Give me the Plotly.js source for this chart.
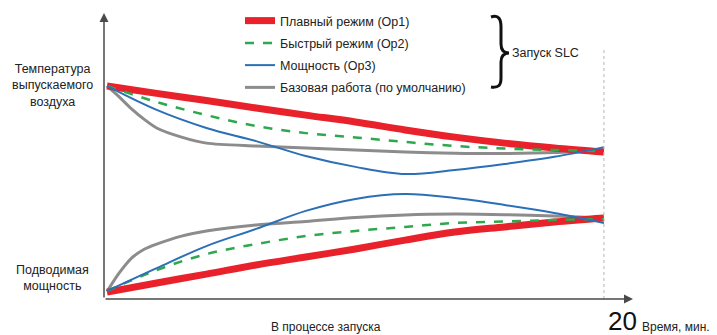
<!DOCTYPE html>
<html>
<head>
<meta charset="utf-8">
<script src="https://cdn.plot.ly/plotly-3.0.1.min.js"></script>
<style>
  html, body { margin: 0; padding: 0; background: #ffffff; }
  #chart { width: 717px; height: 335px; }
</style>
</head>
<body>
<div id="chart"></div>
<script>
// ---- Data (time in minutes, values in relative units 0..100) ----
const tGrid = [0, 2, 4, 6, 8, 10, 12, 14, 16, 18, 20];
const tFast = [0, 0.5, 1, 1.5, 2, 3, 4, 6, 8, 10, 12, 14, 16, 18, 20];

// Upper group: outlet air temperature
const op1Temp  = [74.5, 71.9, 69.4, 66.8, 64.3, 61.9, 59.1, 56.6, 54.5, 52.8, 51.4];
const op2Temp  = [74.5, 68.9, 64.3, 60.5, 58.0, 56.5, 54.9, 53.5, 52.6, 52.1, 51.7];
const op3Temp  = [74.5, 66.1, 59.8, 55.2, 50.0, 46.2, 43.7, 45.1, 47.2, 49.7, 53.1];
const baseTemp = [74.5, 70.6, 66.4, 62.8, 59.8, 56.6, 54.5, 53.5, 52.8, 52.1, 51.4, 51.0, 50.9, 51.2, 52.1];

// Lower group: input power
const op1Power  = [2.4, 5.6, 8.7, 11.9, 14.7, 17.5, 20.6, 23.4, 25.2, 26.9, 28.3];
const op2Power  = [2.8, 10.1, 15.7, 19.2, 22.0, 23.8, 25.2, 26.6, 27.1, 27.6, 28.0];
const op3Power  = [2.8, 10.8, 18.5, 24.5, 30.8, 35.0, 36.7, 35.3, 32.9, 30.1, 26.6];
const basePower = [2.6, 9.2, 14.4, 17.4, 19.2, 22.0, 23.8, 25.9, 27.1, 28.5, 29.4, 29.7, 29.5, 29.0, 28.3];

const seriesNames = ["Плавный режим (Op1)", "Быстрый режим (Op2)", "Мощность (Op3)", "Базовая работа (по умолчанию)"];
const endTime = 20;

// ---- Layout helpers (pixel -> paper) ----
const W = 717, H = 335;
const M = {l: 104, r: 84, t: 13, b: 36};
const PW = W - M.l - M.r, PH = H - M.t - M.b;
const px = x => (x - M.l) / PW;
const py = y => (H - M.b - y) / PH;

const FONT = "Liberation Sans, Arial, sans-serif";
const RED = "#e8212b", GREEN = "#2ea84c", BLUE = "#2b6fb6", GRAY = "#8c8c8c";

function tr(x, y, color, width, dash, group, name, show, rank, smooth) {
  return {
    x: x, y: y, type: "scatter", mode: "lines",
    line: {color: color, width: width, dash: dash, shape: "spline", smoothing: smooth},
    name: name, legendgroup: group, showlegend: show, legendrank: rank,
    hoverinfo: "skip"
  };
}

const data = [
  tr(tFast, baseTemp, GRAY, 3, "solid", "g4", seriesNames[3], true, 4, 0.8),
  tr(tFast, basePower, GRAY, 3, "solid", "g4", seriesNames[3], false, 4, 0.8),
  tr(tGrid, op1Temp, RED, 7, "solid", "g1", seriesNames[0], true, 1, 1),
  tr(tGrid, op1Power, RED, 7, "solid", "g1", seriesNames[0], false, 1, 1),
  tr(tGrid, op2Temp, GREEN, 2.5, "dash", "g2", seriesNames[1], true, 2, 1),
  tr(tGrid, op2Power, GREEN, 2.5, "dash", "g2", seriesNames[1], false, 2, 1),
  tr(tGrid, op3Temp, BLUE, 2, "solid", "g3", seriesNames[2], true, 3, 1),
  tr(tGrid, op3Power, BLUE, 2, "solid", "g3", seriesNames[2], false, 3, 1)
];

// curly brace path in paper coordinates
const P = (x, y) => px(x).toFixed(5) + "," + py(y).toFixed(5);
const bracePath =
  "M" + P(491, 17) +
  " C" + P(499, 14) + " " + P(501, 20) + " " + P(501, 27) +
  " L" + P(501, 44) +
  " C" + P(501, 50) + " " + P(504, 53) + " " + P(509, 53) +
  " C" + P(504, 53) + " " + P(501, 56) + " " + P(501, 62) +
  " L" + P(501, 78) +
  " C" + P(501, 85) + " " + P(499, 88) + " " + P(491, 87);

const textColor = "#222222";
const layout = {
  width: W, height: H,
  margin: Object.assign({autoexpand: false}, M),
  paper_bgcolor: "#ffffff", plot_bgcolor: "#ffffff",
  font: {family: FONT, size: 12, color: textColor},
  showlegend: true,
  legend: {
    xref: "container", yref: "container",
    x: 240 / W, y: 1 - 6 / H, xanchor: "left", yanchor: "top",
    bgcolor: "rgba(0,0,0,0)", borderwidth: 0,
    font: {family: FONT, size: 12.5, color: textColor},
    traceorder: "grouped", tracegroupgap: 3, itemwidth: 30
  },
  xaxis: {range: [-0.12, 21.17], visible: false, fixedrange: true},
  yaxis: {range: [0, 100], visible: false, fixedrange: true},
  shapes: [
    {type: "line", xref: "x", yref: "paper", x0: endTime, x1: endTime, y0: 0, y1: py(48),
     line: {color: "#b5b5b5", width: 1, dash: "dot"}},
    {type: "path", xref: "paper", yref: "paper", path: bracePath,
     line: {color: "#111111", width: 3}}
  ],
  annotations: [
    // axes with arrows
    {xref: "paper", yref: "paper", x: 0, y: 1, ax: 0, ay: PH, axref: "pixel", ayref: "pixel",
     showarrow: true, arrowhead: 2, arrowsize: 1.2, arrowwidth: 1.5, arrowcolor: "#4a4a4a", text: ""},
    {xref: "paper", yref: "paper", x: 1, y: 0, ax: -PW, ay: 0, axref: "pixel", ayref: "pixel",
     showarrow: true, arrowhead: 2, arrowsize: 1.2, arrowwidth: 1.5, arrowcolor: "#4a4a4a", text: ""},
    // side labels
    {xref: "paper", yref: "paper", x: px(52), y: py(86), showarrow: false, xanchor: "center", yanchor: "middle",
     text: "Температура<br>выпускаемого<br>воздуха", font: {size: 12.5, color: textColor}},
    {xref: "paper", yref: "paper", x: px(52), y: py(278), showarrow: false, xanchor: "center", yanchor: "middle",
     text: "Подводимая<br>мощность", font: {size: 12.5, color: textColor}},
    // bottom labels
    {xref: "paper", yref: "paper", x: px(326), y: py(327), showarrow: false, xanchor: "center", yanchor: "middle",
     text: "В процессе запуска", font: {size: 12, color: textColor}},
    {xref: "paper", yref: "paper", x: px(622), y: py(338), showarrow: false, xanchor: "center", yanchor: "bottom",
     text: String(endTime), font: {size: 26, color: "#111111"}},
    {xref: "paper", yref: "paper", x: px(640), y: py(327), showarrow: false, xanchor: "left", yanchor: "middle",
     text: "Время, мин.", font: {size: 12, color: textColor}},
    // brace label
    {xref: "paper", yref: "paper", x: px(510), y: py(53), showarrow: false, xanchor: "left", yanchor: "middle",
     text: "Запуск SLC", font: {size: 12.5, color: textColor}}
  ]
};

Plotly.newPlot("chart", data, layout, {displayModeBar: false, staticPlot: true});
</script>
</body>
</html>
